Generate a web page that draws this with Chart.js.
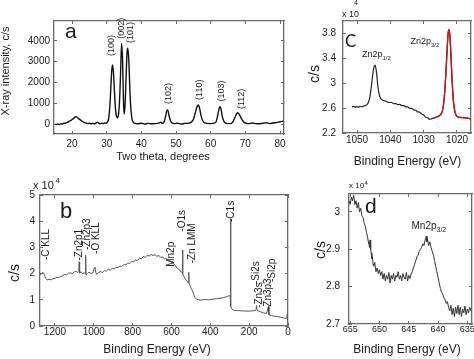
<!DOCTYPE html>
<html>
<head>
<meta charset="utf-8">
<title>XRD and XPS panels</title>
<script src="https://cdn.jsdelivr.net/npm/chart.js@4.4.1/dist/chart.umd.min.js"></script>
<style>
  body { margin: 0; background: #fff; }
  #fig { position: relative; width: 474px; height: 359px; }
  #fig canvas { position: absolute; left: 0; top: 0; }
</style>
</head>
<body>
<div id="fig">
  <canvas id="xrd" width="474" height="359"></canvas>
  <canvas id="survey" width="474" height="359"></canvas>
  <canvas id="zn2p" width="474" height="359"></canvas>
  <canvas id="mn2p" width="474" height="359"></canvas>
</div>
<script>
// (a) XRD pattern, two theta (deg) vs counts
const xrdTheta = [15.2, 15.6, 16.0, 16.4, 16.8, 17.2, 17.6, 18.0, 18.4, 18.8, 19.2, 19.6, 20.0, 20.4, 20.8, 21.2, 21.6, 22.0, 22.5, 23.0,
  23.5, 24.0, 24.5, 25.0, 25.5, 26.0, 26.5, 27.0, 27.4, 27.8, 28.2, 28.6, 29.0, 29.4, 29.8, 30.2, 30.6, 31.0, 31.3, 31.6,
  31.9, 32.2, 32.5, 32.8, 33.1, 33.4, 33.7, 34.0, 34.3, 34.6, 34.8, 35.0, 35.3, 35.6, 35.9, 36.1, 36.4, 36.7, 37.0, 37.3,
  37.7, 38.2, 39, 40, 41, 42, 43, 44, 45, 45.6, 46, 46.5, 46.9, 47.3, 47.6, 47.9, 48.3, 48.8, 49.5, 50.5,
  51.5, 52.5, 53.5, 54.3, 55.0, 55.6, 56.1, 56.4, 56.8, 57.2, 57.7, 58.3, 59, 60, 61, 61.6, 62.1, 62.5, 62.7, 63.0,
  63.4, 63.9, 64.5, 65.5, 66.3, 66.9, 67.5, 67.8, 68.2, 68.8, 69.4, 70.0, 71, 72, 73, 74, 75, 76, 77, 78,
  79, 80, 80.6, 81];
const xrdCounts = [10, -20, 5, -30, 20, 0, 40, 30, 70, 90, 140, 170, 220, 260, 330, 350, 300, 250, 190, 120,
  80, 50, 20, 40, 10, 30, 0, 60, 90, 30, 10, 40, 20, 50, 40, 90, 300, 1100, 2100, 2840,
  2600, 1700, 800, 380, 300, 450, 1100, 2400, 3880, 3000, 1400, 480, 900, 2300, 3500, 3650, 3000, 1600, 700, 250,
  80, 30, 10, 40, 0, 30, 10, 20, 40, 90, 30, 90, 300, 620, 680, 480, 200, 60, 20, 40,
  0, 30, 40, 80, 220, 560, 850, 915, 760, 420, 160, 50, 30, 20, 40, 120, 480, 800, 835, 700,
  330, 100, 30, 20, 80, 280, 500, 545, 480, 280, 120, 50, 20, 50, 20, 10, 40, 60, 20, 50,
  70, 110, 130, 150];
const xrdTicksX = [20, 30, 40, 50, 60, 70, 80];
const xrdTicksY = [0, 1000, 2000, 3000, 4000];
const xrdPeaks = ['(100)', '(002)', '(101)', '(102)', '(110)', '(103)', '(112)'];
const xrdPeakAt = [[31.25, 3280], [34.34, 4100], [37.0, 3900], [47.8, 960], [56.9, 1160], [63.2, 1080], [68.95, 720]];

// (b) XPS survey, binding energy (eV) vs x10^4 c/s
const surveyE = [1277, 1270, 1264, 1258, 1252, 1246, 1240, 1230, 1220, 1210, 1200, 1190, 1180, 1170, 1160, 1150, 1140, 1130, 1120, 1110,
  1100, 1090, 1082, 1077, 1075, 1073, 1065, 1058, 1050, 1044, 1042, 1040, 1034, 1025, 1015, 1005, 998, 994, 990, 985,
  975, 965, 955, 945, 935, 925, 915, 905, 895, 885, 875, 865, 855, 845, 835, 825, 815, 805, 795, 785,
  775, 765, 755, 745, 735, 725, 715, 705, 695, 685, 675, 665, 655, 645, 635, 625, 615, 605, 600, 597,
  590, 580, 570, 560, 552, 545, 543, 541, 535, 528, 520, 514, 511, 509, 503, 497, 490, 484, 478, 470,
  460, 450, 430, 410, 390, 370, 350, 330, 315, 305, 298, 296, 294, 288, 280, 260, 240, 220, 200, 180,
  165, 162, 159, 150, 140, 125, 110, 101, 98, 85, 70, 55, 40, 25, 12, 6, 4, 2];
const surveyI = [1.95, 1.98, 2.05, 2.02, 1.9, 1.8, 1.76, 1.78, 1.76, 1.81, 1.82, 1.86, 1.85, 1.9, 1.92, 1.97, 1.95, 2.01, 2.03, 2.0,
  2.07, 2.08, 2.04, 2.08, 2.45, 2.02, 2.07, 1.99, 2.04, 2.0, 2.7, 1.95, 1.99, 2.05, 2.01, 2.02, 2.2, 2.25, 2.05, 1.97,
  2.05, 2.08, 2.04, 2.11, 2.1, 2.17, 2.13, 2.2, 2.18, 2.24, 2.23, 2.29, 2.27, 2.35, 2.33, 2.41, 2.38, 2.46, 2.45, 2.52,
  2.5, 2.59, 2.56, 2.65, 2.62, 2.7, 2.67, 2.73, 2.69, 2.72, 2.66, 2.69, 2.62, 2.63, 2.56, 2.57, 2.49, 2.48, 2.43, 2.47,
  2.37, 2.31, 2.2, 2.16, 2.07, 2.05, 2.9, 1.98, 1.88, 1.79, 1.7, 1.66, 2.05, 1.6, 1.52, 1.42, 1.3, 1.18, 1.08, 1.02,
  1.0, 0.99, 1.01, 1.0, 1.02, 1.04, 1.06, 1.09, 1.12, 1.15, 1.16, 4.1, 0.74, 0.64, 0.6, 0.59, 0.58, 0.57, 0.57, 0.58,
  0.6, 0.78, 0.6, 0.57, 0.54, 0.5, 0.48, 0.74, 0.42, 0.4, 0.37, 0.36, 0.34, 0.31, 0.29, 0.28, 0.45, 0.25];
const surveyTicksX = [0, 200, 400, 600, 800, 1000, 1200];
const surveyTicksY = [0, 1, 2, 3, 4, 5];
const surveyLines = ['-C KLL', '-Zn2p1', '-Zn2p3', '-O KLL', 'Mn2p', '-O1s', '-Zn LMM', '-C1s', '-Si2s', '-Zn3s', '-Si2p', '-Zn3p3'];
const surveyLineAt = [[1243, 2.52], [1075, 2.5], [1034, 2.9], [985, 2.75], [599, 2.26], [547, 3.6], [491, 2.39], [294, 3.97],
  [165, 1.6], [147, 0.69], [82, 1.68], [100, 0.61]];

// (c) Zn 2p region, x10^4 c/s
const zn2pE = [1051.5, 1051, 1050.5, 1050, 1049.5, 1049, 1048.5, 1048, 1047.5, 1047, 1046.6, 1046.2, 1045.8, 1045.4, 1045.0, 1044.7, 1044.4, 1044.1, 1043.8, 1043.5,
  1043.1, 1042.6, 1042.0, 1041.4, 1040.8, 1040.2, 1039.6, 1039, 1038.4, 1037.8, 1037.2, 1036.6, 1036, 1035.4, 1034.8, 1034.2, 1033.6, 1033, 1032.4, 1031.8,
  1031.2, 1030.6, 1030, 1029.4, 1028.8, 1028.2, 1027.6, 1027, 1026.4, 1025.8, 1025.2, 1024.6, 1024.2, 1023.8, 1023.4, 1023.0, 1022.7, 1022.45, 1022.2, 1021.9,
  1021.6, 1021.3, 1021.0, 1020.6, 1020.2, 1019.6, 1019, 1018, 1017, 1016, 1015.8];
const zn2pI = [2.62, 2.63, 2.615, 2.625, 2.615, 2.63, 2.62, 2.635, 2.64, 2.655, 2.69, 2.76, 2.9, 3.08, 3.24, 3.29, 3.26, 3.15, 2.98, 2.86,
  2.78, 2.74, 2.72, 2.715, 2.695, 2.69, 2.69, 2.67, 2.675, 2.655, 2.66, 2.64, 2.64, 2.62, 2.62, 2.595, 2.595, 2.57, 2.565, 2.54,
  2.535, 2.505, 2.49, 2.455, 2.445, 2.42, 2.43, 2.44, 2.45, 2.465, 2.48, 2.52, 2.6, 2.78, 3.1, 3.5, 3.78, 3.86, 3.8, 3.55,
  3.2, 2.88, 2.67, 2.54, 2.48, 2.455, 2.45, 2.445, 2.44, 2.43, 2.43];
const zn2pFitFrom = 1027.2;
const zn2pTicksX = [1020, 1030, 1040, 1050];
const zn2pTicksY = [2.2, 2.6, 3, 3.4, 3.8];

// (d) Mn 2p3/2 region, x10^4 c/s
const mn2pE = [655.2, 655.0, 654.8, 654.6, 654.4, 654.2, 654.0, 653.8, 653.6, 653.4, 653.2, 653.0, 652.8, 652.6, 652.4, 652.2, 652.0, 651.9, 651.8, 651.7,
  651.6, 651.5, 651.4, 651.3, 651.2, 651.1, 651.0, 650.8, 650.6, 650.4, 650.2, 650.0, 649.8, 649.6, 649.4, 649.2, 649.0, 648.8, 648.6, 648.4,
  648.2, 648.0, 647.8, 647.6, 647.4, 647.2, 647.0, 646.8, 646.6, 646.4, 646.2, 646.0, 645.8, 645.6, 645.4, 645.2, 645.0, 644.8, 644.6, 644.4,
  644.2, 644.0, 643.8, 643.6, 643.4, 643.2, 643.0, 642.8, 642.6, 642.4, 642.2, 642.0, 641.9, 641.8, 641.6, 641.4, 641.2, 641.0, 640.8, 640.6,
  640.4, 640.2, 640.0, 639.8, 639.6, 639.4, 639.2, 639.0, 638.8, 638.6, 638.4, 638.2, 638.0, 637.8, 637.6, 637.4, 637.2, 637.0, 636.8, 636.6,
  636.4, 636.2, 636.0, 635.8, 635.6, 635.4, 635.2, 635.0, 634.8, 634.6, 634.4];
const mn2pI = [3.03, 3.02, 3.04, 3.03, 3.045, 3.02, 3.03, 3.01, 3.025, 3.0, 3.01, 2.99, 2.985, 2.97, 2.96, 2.945, 2.93, 2.92, 2.915, 2.905,
  2.925, 2.9, 2.89, 2.875, 2.88, 2.86, 2.855, 2.865, 2.84, 2.85, 2.835, 2.845, 2.83, 2.84, 2.82, 2.835, 2.815, 2.83, 2.82, 2.838,
  2.81, 2.83, 2.82, 2.835, 2.815, 2.83, 2.825, 2.84, 2.82, 2.83, 2.815, 2.835, 2.825, 2.82, 2.838, 2.815, 2.83, 2.822, 2.834, 2.84,
  2.85, 2.86, 2.87, 2.88, 2.885, 2.895, 2.9, 2.905, 2.915, 2.91, 2.925, 2.935, 2.92, 2.928, 2.91, 2.92, 2.905, 2.895, 2.885, 2.87,
  2.855, 2.84, 2.825, 2.81, 2.795, 2.785, 2.78, 2.77, 2.765, 2.755, 2.76, 2.745, 2.735, 2.75, 2.725, 2.742, 2.72, 2.745, 2.728, 2.75,
  2.725, 2.745, 2.72, 2.74, 2.73, 2.748, 2.725, 2.74, 2.73, 2.745, 2.735];
const mn2pTicksX = [635, 640, 645, 650, 655];
const mn2pTicksY = [2.7, 2.8, 2.9, 3];

const W = 474, H = 359, YW = 30, XH = 20;
const FONT = "'Liberation Sans', Arial, sans-serif";
const FRAME = '#6a6a6a';
Chart.defaults.font.family = FONT;
Chart.defaults.color = '#1a1a1a';

const pts = (xs, ys) => xs.map((x, i) => ({ x: x, y: ys[i] }));
const f = (px) => px + "px " + FONT;

// free text: titles, panel letters, peak names
function notesPlugin(items) {
  return {
    id: 'notes',
    afterDraw(chart) {
      const ctx = chart.ctx;
      const sx = chart.scales.x, sy = chart.scales.y;
      for (const n of items) {
        let x = n.x, y = n.y;
        if (n.xv !== undefined) {
          x = sx.getPixelForValue(n.xv);
          y = sy.getPixelForValue(n.yv);
        }
        ctx.save();
        ctx.translate(x, y);
        if (n.rot) ctx.rotate(n.rot * Math.PI / 180);
        ctx.font = n.font;
        ctx.fillStyle = n.color || '#1a1a1a';
        ctx.textAlign = n.align || 'left';
        ctx.textBaseline = n.base || 'alphabetic';
        ctx.fillText(n.text, 0, 0);
        if (n.sub) {
          const w = ctx.measureText(n.text).width;
          ctx.font = n.subFont;
          ctx.textAlign = 'left';
          ctx.fillText(n.sub, w, n.subDy);
        }
        ctx.restore();
      }
    }
  };
}

// main axes: labels outside, short ticks pointing into the plot
function axis(a, dir) {
  return {
    type: 'linear', min: a.min, max: a.max, reverse: !!a.reverse,
    position: dir === 'x' ? 'bottom' : 'left',
    grid: { display: true, drawOnChartArea: false, drawTicks: true, tickLength: -3, color: FRAME, lineWidth: 1 },
    border: { display: true, color: FRAME, width: 1.3 },
    ticks: { autoSkip: false, maxRotation: 0, padding: a.pad + 3, font: { size: a.size || 10 }, color: '#1a1a1a', callback: v => String(v) },
    afterBuildTicks: s => { s.ticks = a.ticks.map(v => ({ value: v })); },
    afterFit: s => { if (dir === 'x') s.height = XH; else s.width = YW; }
  };
}
// mirror axes on top / right: only the box line and the inward ticks
function mirror(a, dir) {
  return {
    type: 'linear', min: a.min, max: a.max, reverse: !!a.reverse,
    position: dir === 'x' ? 'top' : 'right',
    grid: { display: true, drawOnChartArea: false, drawTicks: true, tickLength: -3, color: FRAME, lineWidth: 1 },
    border: { display: true, color: FRAME, width: 1.3 },
    ticks: { display: false },
    afterBuildTicks: s => { s.ticks = a.ticks.map(v => ({ value: v })); },
    afterFit: s => { if (dir === 'x') s.height = 0; else s.width = 0; }
  };
}

function makePanel(id, p) {
  const [l, t, r, b] = p.box;
  return new Chart(document.getElementById(id), {
    type: 'line',
    data: { datasets: p.datasets },
    options: {
      responsive: false,
      animation: false,
      layout: { padding: { left: l - YW, top: t, right: W - r, bottom: H - b - XH } },
      elements: { point: { radius: 0 } },
      plugins: { legend: { display: false }, tooltip: { enabled: false } },
      scales: { x: axis(p.x, 'x'), y: axis(p.y, 'y'), x2: mirror(p.x, 'x'), y2: mirror(p.y, 'y') }
    },
    plugins: [notesPlugin(p.notes)]
  });
}

// (a)
makePanel('xrd', {
  box: [54, 21, 284, 134],
  x: { min: 14.8, max: 81.15, ticks: xrdTicksX, pad: 4 },
  y: { min: -480, max: 4960, ticks: xrdTicksY, pad: 4 },
  datasets: [{ data: pts(xrdTheta, xrdCounts), borderColor: '#111', borderWidth: 1.4, cubicInterpolationMode: 'monotone' }],
  notes: [
    { text: 'X-ray intensity, c/s', x: 6, y: 71, rot: -90, align: 'center', base: 'middle', font: f(11) },
    { text: 'Two theta, degrees', x: 163, y: 159.5, align: 'center', font: f(11) },
    { text: 'a', x: 65, y: 38, font: f(21) }
  ].concat(xrdPeaks.map((s, i) => ({ text: s, xv: xrdPeakAt[i][0], yv: xrdPeakAt[i][1], rot: -90, base: 'middle', font: f(9) })))
});

// (b)
makePanel('survey', {
  box: [40, 195, 288, 326],
  x: { min: 0, max: 1277, reverse: true, ticks: surveyTicksX, pad: 0 },
  y: { min: 0, max: 5, ticks: surveyTicksY, pad: 5 },
  datasets: [{ data: pts(surveyE, surveyI), borderColor: '#555', borderWidth: 1 }],
  notes: [
    { text: 'x 10', x: 33, y: 188.5, font: f(11) },
    { text: '4', x: 55.5, y: 183, font: f(8) },
    { text: 'b', x: 60, y: 218, font: f(22) },
    { text: 'c/s', x: 15.5, y: 273, rot: -90, align: 'center', base: 'middle', font: f(14) },
    { text: 'Binding Energy (eV)', x: 157, y: 353, align: 'center', font: f(12) }
  ].concat(surveyLines.map((s, i) => ({ text: s, xv: surveyLineAt[i][0], yv: surveyLineAt[i][1], rot: -90, base: 'middle', font: f(10) })))
});

// (c)
makePanel('zn2p', {
  box: [343, 21, 471, 133],
  x: { min: 1015.8, max: 1054.2, reverse: true, ticks: zn2pTicksX, pad: 1 },
  y: { min: 2.2, max: 4.0, ticks: zn2pTicksY, pad: 7 },
  datasets: [
    { data: pts(zn2pE, zn2pI).filter(q => q.x <= zn2pFitFrom), borderColor: '#d2141e', borderWidth: 1.4, cubicInterpolationMode: 'monotone' },
    { data: pts(zn2pE, zn2pI), borderColor: '#222', borderWidth: 1.2, cubicInterpolationMode: 'monotone' }
  ],
  notes: [
    { text: 'x 10', x: 342, y: 17, font: f(9) },
    { text: '4', x: 354, y: 5, font: f(7) },
    { text: 'C', x: 345, y: 47, font: "17px Lato, " + FONT },
    { text: 'Zn2p', x: 362, y: 57, font: f(9), sub: '1/2', subFont: f(6), subDy: 2.5 },
    { text: 'Zn2p', x: 410.5, y: 44, font: f(9), sub: '3/2', subFont: f(6), subDy: 2.5 },
    { text: 'c/s', x: 315.5, y: 74, rot: -90, align: 'center', base: 'middle', font: f(14) },
    { text: 'Binding Energy (eV)', x: 407.5, y: 165, align: 'center', font: f(12) }
  ]
});

// (d)
makePanel('mn2p', {
  box: [349, 194, 472, 324],
  x: { min: 634.2, max: 655.2, reverse: true, ticks: mn2pTicksX, pad: 0, size: 9 },
  y: { min: 2.7, max: 3.048, ticks: mn2pTicksY, pad: 9 },
  datasets: [{ data: pts(mn2pE, mn2pI), borderColor: '#333', borderWidth: 1 }],
  notes: [
    { text: 'x 10', x: 349, y: 188, font: f(8) },
    { text: '4', x: 364.5, y: 185, font: f(6) },
    { text: 'd', x: 365, y: 213, font: f(21) },
    { text: 'Mn2p', x: 411.5, y: 229, font: f(10), sub: '3/2', subFont: f(7), subDy: 2.5 },
    { text: 'c/s', x: 321, y: 250, rot: -90, align: 'center', base: 'middle', font: f(14) },
    { text: 'Binding Energy (eV)', x: 407, y: 353, align: 'center', font: f(12) }
  ]
});
</script>
</body>
</html>
